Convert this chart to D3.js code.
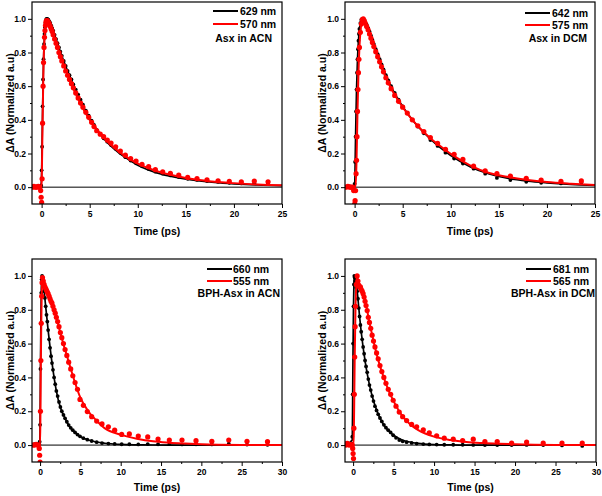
<!DOCTYPE html>
<html><head><meta charset="utf-8">
<script src="https://cdn.jsdelivr.net/npm/d3@7"></script>
<style>
body{margin:0;background:#fff}
svg{display:block}
text{font-family:"Liberation Sans",Arial,sans-serif;font-weight:bold;fill:#000}
</style>
</head><body>
<svg id="c" width="602" height="496"></svg>
<script>
// ---------- DATA ----------
const LEG_BLACK = ["629 nm", "642 nm", "660 nm", "681 nm"];
const LEG_RED = ["570 nm", "575 nm", "555 nm", "565 nm"];
const SAMPLES = ["Asx in ACN", "Asx in DCM", "BPH-Asx in ACN", "BPH-Asx in DCM"];
const Y_TICKS = [0.0, 0.2, 0.4, 0.6, 0.8, 1.0];
const X_TICKS_A = [0, 5, 10, 15, 20, 25];
const X_TICKS_B = [0, 5, 10, 15, 20, 25, 30];
const X_TITLE = "Time (ps)";
const Y_TITLE = "\u0394A (Normalized a.u)";

// Panel 1: Asx in ACN
const T1 = [-0.95,-0.8,-0.65,-0.5,-0.35,-0.2,-0.1,-0.05,0,0.05,
  0.1,0.15,0.2,0.25,0.3,0.35,0.4,0.45,0.5,0.6,
  0.7,0.8,0.9,1.0,1.1,1.2,1.35,1.5,1.65,1.8,
  1.95,2.1,2.3,2.5,2.7,2.9,3.1,3.3,3.55,3.8,
  4.05,4.3,4.6,4.9,5.2,5.45,5.73,6.1,6.45,6.83,
  7.22,7.7,8.19,8.71,9.26,9.82,10.44,11.13,11.83,12.59,
  13.39,14.26,15.19,16.16,17.2,18.35,19.52,20.77,22.12,23.55];
const B1 = [0,0,0,0.005,0,0,0,0.01,0.1,0.24,
  0.48,0.64,0.76,0.85,0.91,0.95,0.975,0.99,1.0,1.0,
  0.995,0.985,0.975,0.96,0.945,0.93,0.905,0.88,0.855,0.83,
  0.805,0.78,0.75,0.72,0.69,0.665,0.64,0.61,0.58,0.55,
  0.52,0.49,0.455,0.425,0.395,0.37,0.34,0.315,0.29,0.27,
  0.25,0.228,0.204,0.178,0.158,0.142,0.124,0.108,0.092,0.08,
  0.07,0.06,0.05,0.043,0.036,0.031,0.026,0.022,0.024,0.022];
const R1 = [0,0.005,0,0,0.005,0,-0.02,-0.06,-0.09,0.05,
  0.38,0.6,0.74,0.83,0.89,0.93,0.96,0.98,0.99,0.99,
  0.98,0.97,0.955,0.94,0.925,0.905,0.88,0.855,0.83,0.8,
  0.775,0.75,0.72,0.69,0.665,0.64,0.615,0.59,0.56,0.53,
  0.5,0.475,0.445,0.415,0.385,0.36,0.335,0.315,0.3,0.28,
  0.262,0.24,0.215,0.19,0.17,0.155,0.136,0.122,0.104,0.091,
  0.082,0.071,0.058,0.051,0.044,0.038,0.034,0.031,0.036,0.032];
const TF1 = [-1,-0.05,0,0.1,0.2,0.3,0.4,0.5,0.6,0.8,
  1.0,1.5,2,2.5,3,3.5,4,5,6,7,
  8,9,10,12,14,16,18,20,22.5,25];
const F1B = [0,0,0.08,0.45,0.75,0.9,0.97,0.995,1.0,0.985,
  0.96,0.88,0.795,0.72,0.65,0.58,0.515,0.41,0.32,0.255,
  0.205,0.165,0.13,0.085,0.058,0.04,0.028,0.02,0.013,0.009];
const F1R = [0,0,0.03,0.38,0.73,0.88,0.955,0.985,0.99,0.97,
  0.94,0.86,0.77,0.695,0.625,0.56,0.5,0.4,0.325,0.262,
  0.212,0.172,0.14,0.095,0.066,0.045,0.032,0.024,0.016,0.011];

// Panel 2: Asx in DCM
const T2 = [-0.9,-0.7,-0.5,-0.35,-0.2,-0.1,0,0.05,0.1,0.15,
  0.2,0.25,0.3,0.35,0.4,0.45,0.5,0.6,0.7,0.8,
  0.9,1.0,1.1,1.25,1.4,1.55,1.7,1.85,2.0,2.2,
  2.4,2.6,2.8,3.0,3.25,3.5,3.8,4.17,4.57,5.0,
  5.48,6.0,6.57,7.2,7.88,8.63,9.45,10.35,11.26,12.37,
  13.58,14.8,16.2,17.85,19.4,21.46,23.58];
const B2 = [0,0,0.005,0,0,0,0.02,0.15,0.3,0.45,
  0.58,0.68,0.76,0.82,0.87,0.91,0.94,0.975,0.995,1.0,
  0.998,0.99,0.98,0.965,0.945,0.925,0.9,0.875,0.85,0.82,
  0.79,0.76,0.73,0.7,0.665,0.635,0.6,0.56,0.52,0.48,
  0.44,0.4,0.36,0.32,0.28,0.245,0.205,0.17,0.14,0.11,
  0.08,0.055,0.042,0.032,0.026,0.022,0.028];
const R2 = [0,0.005,0,0,0,-0.02,-0.1,-0.08,-0.02,0.08,
  0.16,0.3,0.45,0.58,0.68,0.76,0.83,0.92,0.97,0.995,
  1.0,0.99,0.975,0.955,0.935,0.91,0.885,0.86,0.835,0.805,
  0.775,0.745,0.715,0.685,0.65,0.62,0.585,0.545,0.51,0.475,
  0.44,0.4,0.365,0.33,0.295,0.26,0.225,0.195,0.165,0.125,
  0.097,0.08,0.066,0.053,0.042,0.034,0.037];
const TF2 = [-1,0,0.1,0.2,0.3,0.4,0.5,0.6,0.7,0.8,
  1.0,1.5,2,2.5,3,3.5,4,5,6,7,
  8,9,10,12,14,16,18,20,22.5,25];
const F2B = [0,0.01,0.3,0.58,0.76,0.87,0.94,0.975,0.995,1.0,
  0.99,0.935,0.85,0.775,0.7,0.635,0.575,0.48,0.4,0.335,
  0.28,0.23,0.188,0.122,0.078,0.052,0.036,0.026,0.017,0.011];
const F2R = [0,0,0,0.16,0.45,0.68,0.83,0.92,0.97,0.995,
  0.99,0.92,0.835,0.76,0.685,0.62,0.565,0.475,0.4,0.338,
  0.285,0.24,0.198,0.13,0.084,0.06,0.043,0.031,0.021,0.013];

// Panel 3: BPH-Asx in ACN
const T3 = [-0.9,-0.7,-0.5,-0.3,-0.2,-0.1,-0.05,0,0.05,0.1,
  0.15,0.2,0.25,0.3,0.4,0.5,0.6,0.7,0.8,0.9,
  1.0,1.12,1.24,1.36,1.48,1.6,1.74,1.88,2.02,2.18,
  2.35,2.52,2.7,2.9,3.1,3.32,3.55,3.8,4.06,4.34,
  4.64,4.95,5.37,5.86,6.4,7.02,7.68,8.47,9.25,10.12,
  11.07,12.18,13.35,14.63,16.03,17.6,19.34,21.3,23.4,25.66,
  28.2];
const B3 = [0,0.005,0,0.005,0,0.005,0.02,0.12,0.45,0.72,
  0.9,0.98,1.0,0.985,0.94,0.91,0.87,0.82,0.77,0.73,
  0.68,0.625,0.575,0.525,0.485,0.445,0.4,0.36,0.32,0.29,
  0.255,0.225,0.2,0.178,0.158,0.138,0.118,0.102,0.088,0.075,
  0.062,0.052,0.041,0.032,0.024,0.017,0.012,0.009,0.007,0.005,
  0.005,0.004,0.006,0.005,0.006,0.004,0.005,0.004,0.008,0.003,
  0.002];
const R3 = [0,0,0.005,0,0,-0.02,-0.06,-0.1,0.2,0.5,
  0.72,0.88,0.96,0.99,0.97,0.95,0.935,0.925,0.915,0.905,
  0.895,0.88,0.865,0.85,0.84,0.82,0.8,0.78,0.755,0.73,
  0.7,0.665,0.635,0.6,0.565,0.53,0.49,0.45,0.41,0.37,
  0.33,0.27,0.235,0.198,0.168,0.142,0.125,0.108,0.088,0.063,
  0.066,0.053,0.048,0.036,0.03,0.03,0.026,0.022,0.03,0.022,
  0.02];
const TF3 = [-1,-0.05,0,0.05,0.1,0.15,0.2,0.25,0.3,0.5,
  0.75,1,1.5,2,2.5,3,3.5,4,4.5,5,
  6,7,8,10,12,14,16,18,20,25,
  30];
const F3B = [0,0.01,0.12,0.45,0.72,0.9,0.98,1.0,0.985,0.91,
  0.795,0.68,0.48,0.325,0.225,0.168,0.122,0.09,0.068,0.05,
  0.03,0.018,0.011,0.004,0.0015,0.0005,0,0,0,0,
  0];
const F3R = [0,0,0,0.2,0.5,0.72,0.88,0.96,0.99,0.95,
  0.92,0.895,0.84,0.76,0.665,0.58,0.5,0.42,0.345,0.28,
  0.198,0.145,0.1,0.062,0.038,0.022,0.014,0.009,0.005,0.001,
  0];

// Panel 4: BPH-Asx in DCM
const T4 = [-0.9,-0.7,-0.5,-0.3,-0.2,-0.1,-0.05,0,0.05,0.1,
  0.15,0.2,0.25,0.3,0.4,0.5,0.6,0.7,0.8,0.9,
  1.0,1.12,1.24,1.36,1.48,1.6,1.74,1.88,2.02,2.18,
  2.35,2.52,2.7,2.9,3.1,3.32,3.55,3.8,4.06,4.34,
  4.64,4.95,5.3,5.7,6.12,6.61,7.23,7.85,8.67,9.41,
  10.32,11.26,12.37,13.53,14.84,16.28,17.8,19.58,21.43,23.48,
  25.8,28.3];
const B4 = [0.01,0,0.005,0,0.01,0.05,0.3,0.6,0.82,0.95,
  1.0,0.99,0.97,0.95,0.93,0.91,0.865,0.81,0.76,0.71,
  0.67,0.625,0.58,0.54,0.5,0.465,0.43,0.39,0.355,0.325,
  0.29,0.26,0.23,0.205,0.182,0.16,0.14,0.12,0.103,0.088,
  0.075,0.058,0.043,0.03,0.022,0.017,0.013,0.009,0.006,0.004,
  0.003,0.002,0.002,0.002,0.001,0,0,0,0.001,0,
  -0.002,-0.005];
const R4 = [0,0.01,0,0.005,0,0,-0.02,-0.05,-0.08,0.1,
  0.3,0.52,0.7,0.82,0.95,1.0,0.97,0.945,0.935,0.935,
  0.92,0.91,0.895,0.875,0.85,0.825,0.795,0.755,0.725,0.69,
  0.65,0.615,0.58,0.545,0.51,0.47,0.435,0.4,0.365,0.33,
  0.3,0.265,0.23,0.195,0.168,0.145,0.122,0.108,0.09,0.073,
  0.055,0.041,0.035,0.027,0.035,0.021,0.021,0.012,0.018,0.012,
  0.012,0.012];
const TF4 = [-1,-0.1,-0.05,0,0.05,0.1,0.15,0.2,0.3,0.4,
  0.5,0.6,0.8,1,1.5,2,2.5,3,3.5,4,
  4.5,5,6,7,8,10,12,14,16,18,
  20,25,30];
const F4B = [0,0.03,0.3,0.6,0.82,0.95,1.0,0.99,0.95,0.93,
  0.91,0.865,0.76,0.67,0.49,0.36,0.265,0.195,0.143,0.105,
  0.078,0.058,0.032,0.018,0.01,0.003,0.001,0,0,0,
  0,0,0];
const F4R = [0,0,0,0,0,0.1,0.3,0.52,0.82,0.95,
  1.0,0.97,0.935,0.92,0.85,0.73,0.62,0.52,0.44,0.37,
  0.31,0.26,0.178,0.125,0.09,0.05,0.03,0.018,0.012,0.008,
  0.005,0.001,0];

// ---------- LAYOUT ----------
const panels = [
  {t:T1, b:B1, r:R1, tf:TF1, fb:F1B, fr:F1R, xmax:25, xt:X_TICKS_A,
   L:32, R:282, T:2, B:204, legLine:[213,238], legTx:240, legY:[11,24], legB:[14.5,27.5,41.5], sx:272, ytx:14, xtb:235},
  {t:T2, b:B2, r:R2, tf:TF2, fb:F2B, fr:F2R, xmax:25, xt:X_TICKS_A,
   L:345, R:595, T:2, B:204, legLine:[525,550], legTx:552, legY:[13,25], legB:[16.5,28.8,41.5], sx:587, ytx:326, xtb:235},
  {t:T3, b:B3, r:R3, tf:TF3, fb:F3B, fr:F3R, xmax:30, xt:X_TICKS_B,
   L:32, R:282, T:259, B:462, legLine:[207,232], legTx:233, legY:[269,281], legB:[272.5,284.5,297], sx:280, ytx:14, xtb:491},
  {t:T4, b:B4, r:R4, tf:TF4, fb:F4B, fr:F4R, xmax:30, xt:X_TICKS_B,
   L:345, R:596, T:259, B:462, legLine:[526,551], legTx:553, legY:[269,281], legB:[272.5,284.5,297], sx:595, ytx:326, xtb:491}
];

const RED = "#ff0000";
const svg = d3.select("#c");
const defs = svg.append("defs");

panels.forEach((p, i) => {
  const x = d3.scaleLinear().domain([-1, p.xmax]).range([p.L, p.R]);
  const y = d3.scaleLinear().domain([-0.1, 1.1]).range([p.B, p.T]);
  const g = svg.append("g");

  defs.append("clipPath").attr("id", "clip" + i)
    .append("rect").attr("x", p.L).attr("y", p.T).attr("width", p.R - p.L).attr("height", p.B - p.T);
  const plot = g.append("g").attr("clip-path", `url(#clip${i})`);

  // zero line
  plot.append("line").attr("x1", p.L).attr("x2", p.R).attr("y1", y(0)).attr("y2", y(0))
    .attr("stroke", "#000").attr("stroke-width", 1);

  const blackPts = p.t.map((t, k) => [t, p.b[k]]);
  const redPts = p.t.map((t, k) => [t, p.r[k]]);
  const fitB = p.tf.map((t, k) => [t, p.fb[k]]);
  const fitR = p.tf.map((t, k) => [t, p.fr[k]]);
  const line = d3.line().x(d => x(d[0])).y(d => y(d[1])).curve(d3.curveMonotoneX);

  plot.append("g").selectAll("circle").data(blackPts).join("circle")
    .attr("cx", d => x(d[0])).attr("cy", d => y(d[1])).attr("r", 1.9).attr("fill", "#000");
  plot.append("path").attr("d", line(fitB)).attr("fill", "none").attr("stroke", "#000").attr("stroke-width", 1.7);
  plot.append("g").selectAll("circle").data(redPts).join("circle")
    .attr("cx", d => x(d[0])).attr("cy", d => y(d[1])).attr("r", 2.6).attr("fill", RED);
  plot.append("path").attr("d", line(fitR)).attr("fill", "none").attr("stroke", RED).attr("stroke-width", 2);

  // axes
  const xMinor = d3.range(p.xt.length - 1).map(k => p.xt[k] + 2.5);
  const yMinor = [0.1, 0.3, 0.5, 0.7, 0.9];
  const ax = g.append("g").attr("transform", `translate(0,${p.B})`)
    .call(d3.axisBottom(x).tickValues(p.xt).tickSize(4).tickPadding(3).tickFormat(d3.format("d")));
  ax.select(".domain").remove();
  ax.selectAll("text").style("font-size", "8.5px").style("font-family", null);
  const axm = g.append("g").attr("transform", `translate(0,${p.B})`)
    .call(d3.axisBottom(x).tickValues(xMinor).tickSize(2).tickFormat(""));
  axm.select(".domain").remove();

  const ay = g.append("g").attr("transform", `translate(${p.L},0)`)
    .call(d3.axisLeft(y).tickValues(Y_TICKS).tickSize(4).tickPadding(2).tickFormat(d3.format(".1f")));
  ay.select(".domain").remove();
  ay.selectAll("text").style("font-size", "8.5px").style("font-family", null);
  const aym = g.append("g").attr("transform", `translate(${p.L},0)`)
    .call(d3.axisLeft(y).tickValues(yMinor).tickSize(2).tickFormat(""));
  aym.select(".domain").remove();
  g.selectAll(".tick line").attr("stroke-width", 1);

  // frame
  g.append("rect").attr("x", p.L).attr("y", p.T).attr("width", p.R - p.L).attr("height", p.B - p.T)
    .attr("fill", "none").attr("stroke", "#000").attr("stroke-width", 1.2);

  // titles
  g.append("text").attr("x", (p.L + p.R) / 2).attr("y", p.xtb).attr("text-anchor", "middle")
    .style("font-size", "10.5px").text(X_TITLE);
  g.append("text").attr("transform", `translate(${p.ytx},${(p.T + p.B) / 2}) rotate(-90)`)
    .attr("text-anchor", "middle").style("font-size", "10.5px").text(Y_TITLE);

  // legend
  g.append("line").attr("x1", p.legLine[0]).attr("x2", p.legLine[1]).attr("y1", p.legY[0]).attr("y2", p.legY[0])
    .attr("stroke", "#000").attr("stroke-width", 2);
  g.append("line").attr("x1", p.legLine[0]).attr("x2", p.legLine[1]).attr("y1", p.legY[1]).attr("y2", p.legY[1])
    .attr("stroke", RED).attr("stroke-width", 2);
  g.append("text").attr("x", p.legTx).attr("y", p.legB[0]).style("font-size", "10.5px").text(LEG_BLACK[i]);
  g.append("text").attr("x", p.legTx).attr("y", p.legB[1]).style("font-size", "10.5px").text(LEG_RED[i]);
  g.append("text").attr("x", p.sx).attr("y", p.legB[2]).attr("text-anchor", "end").style("font-size", "10.5px").text(SAMPLES[i]);
});
</script>
</body></html>
